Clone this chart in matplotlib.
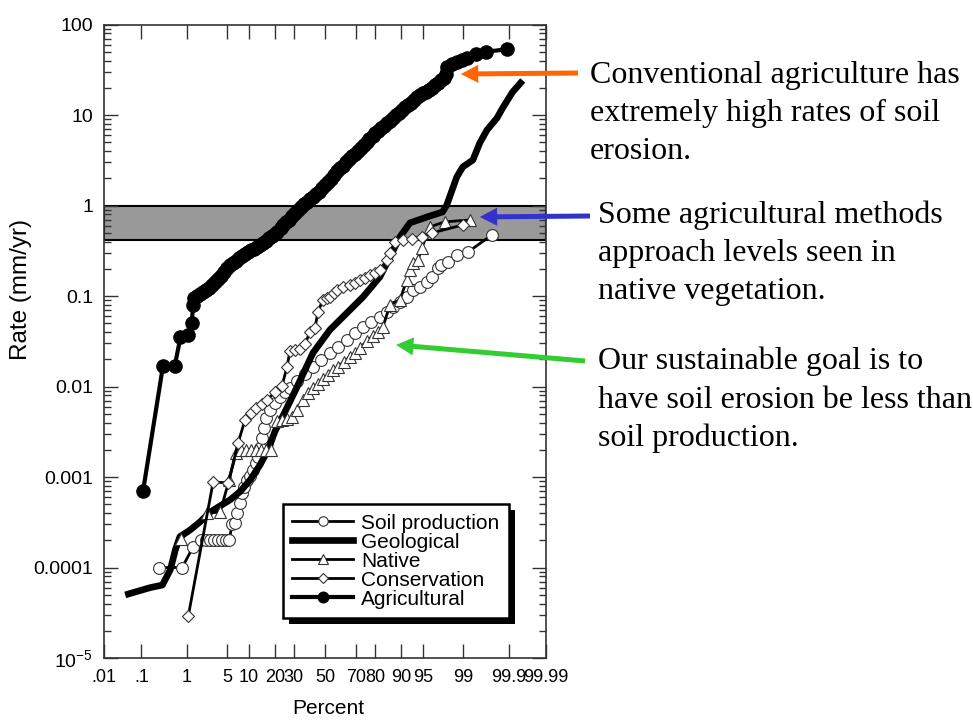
import numpy as np
import matplotlib
matplotlib.use('Agg')
import matplotlib.pyplot as plt
from matplotlib.patches import Rectangle
from matplotlib.transforms import IdentityTransform
from matplotlib.ticker import LogLocator, NullLocator, NullFormatter, FixedLocator
from statistics import NormalDist

# 累積確率(%) と 侵食・生成速度 (mm/yr)
soil_pct = [0.26, 0.81, 1.33, 1.86, 2.28, 2.66, 3.10, 3.61, 4.17, 4.81,
            5.34, 5.90, 6.52, 6.96, 7.65, 8.15, 8.67, 9.49, 10.4, 11.3,
            12.3, 13.0, 13.7, 14.5, 15.3, 16.1, 17.8, 20.0, 22.5, 25.1,
            27.8, 31.9, 36.8, 42.0, 47.3, 53.3, 58.6, 64.4, 69.3, 73.9,
            78.0, 82.2, 85.1, 87.4, 89.6, 91.6, 93.0, 94.5, 95.7, 96.4,
            97.1, 97.5, 98.1, 98.7, 99.2, 99.75]
soil_rate = [1.0e-4, 1.0e-4, 1.7e-4, 2.0e-4, 2.0e-4, 2.0e-4, 2.0e-4, 2.0e-4, 2.0e-4, 2.0e-4,
             2.0e-4, 3.0e-4, 3.1e-4, 4.0e-4, 5.2e-4, 6.7e-4, 7.8e-4, 9.3e-4, 1.03e-3, 1.2e-3,
             1.43e-3, 1.67e-3, 2.1e-3, 2.7e-3, 3.5e-3, 4.5e-3, 5.5e-3, 6.6e-3, 7.7e-3, 8.8e-3,
             9.7e-3, 0.0116, 0.0138, 0.0165, 0.0197, 0.0236, 0.0275, 0.0328, 0.0392, 0.0457,
             0.0519, 0.0589, 0.067, 0.076, 0.0863, 0.098, 0.117, 0.126, 0.144, 0.163,
             0.205, 0.221, 0.239, 0.285, 0.308, 0.474]

geo_pct = [0.047, 0.164, 0.31, 0.46, 0.59, 0.73, 1.16, 1.78, 2.66, 3.88,
           5.51, 7.65, 10.4, 13.7, 16.9, 20.0, 25.1, 31.9, 42.0, 53.3,
           64.4, 73.9, 82.2, 86.3, 89.6, 92.35, 95.7, 97.6, 97.98, 98.67,
           98.98, 99.36, 99.54, 99.68, 99.81, 99.86, 99.92, 99.95]
geo_rate = [5.1e-5, 6.0e-5, 6.4e-5, 9.4e-5, 1.57e-4, 2.19e-4, 2.6e-4, 3.2e-4, 4.1e-4, 4.8e-4,
            5.6e-4, 6.9e-4, 9.3e-4, 1.36e-3, 2.0e-3, 3.2e-3, 5.3e-3, 9.9e-3, 0.0236, 0.0424,
            0.0652, 0.098, 0.163, 0.271, 0.451, 0.644, 0.75, 0.85, 1.02, 2.07,
            2.68, 3.2, 4.93, 6.86, 9.3, 12.0, 18.0, 22.7]

nat_pct = [0.78, 2.37, 3.88, 5.34, 6.73, 7.90, 9.21, 10.7, 12.3, 14.1,
           16.1, 18.2, 21.0, 23.5, 26.1, 28.9, 31.9, 35.6, 38.7, 42.0,
           45.3, 48.6, 52.0, 55.3, 58.6, 62.5, 66.3, 69.3, 72.2, 76.0,
           79.0, 81.4, 83.5, 86.3, 89.6, 91.6, 92.35, 93.0, 94.1, 94.85,
           96.1, 97.8, 99.26]
nat_rate = [2.07e-4, 4.0e-4, 4.1e-4, 9.3e-4, 1.85e-3, 2.0e-3, 2.0e-3, 2.0e-3, 2.0e-3, 2.0e-3,
            2.0e-3, 2.0e-3, 4.2e-3, 4.3e-3, 4.4e-3, 4.6e-3, 5.5e-3, 7.1e-3, 8.5e-3, 9.7e-3,
            0.0107, 0.0122, 0.0135, 0.0153, 0.0165, 0.0188, 0.0213, 0.0236, 0.0268, 0.032,
            0.0363, 0.040, 0.0457, 0.080, 0.091, 0.151, 0.195, 0.233, 0.251, 0.341,
            0.582, 0.661, 0.695]

con_pct = [1.07, 2.99, 5.16, 7.2, 8.93, 10.7, 12.3, 14.5, 16.5, 20.0,
           23.5, 26.1, 27.8, 30.7, 33.7, 36.8, 40.1, 43.3, 45.3, 48.6,
           51.4, 53.3, 56.0, 58.0, 61.9, 66.3, 69.3, 72.2, 74.9, 77.5,
           80.0, 82.2, 85.1, 86.3, 88.0, 90.5, 92.8, 94.85, 96.4, 98.98]
con_rate = [2.9e-5, 8.85e-4, 8.6e-4, 2.4e-3, 4.3e-3, 5.1e-3, 5.8e-3, 6.4e-3, 7.1e-3, 8.7e-3,
            0.0102, 0.0165, 0.0248, 0.0254, 0.026, 0.0297, 0.040, 0.0446, 0.067, 0.091,
            0.0955, 0.098, 0.109, 0.117, 0.126, 0.133, 0.140, 0.151, 0.159, 0.171,
            0.180, 0.195, 0.251, 0.300, 0.397, 0.418, 0.429, 0.451, 0.499, 0.612]

agr_pct = [0.11, 0.32, 0.57, 0.75, 1.07, 1.25, 1.32, 1.39, 1.58, 1.79,
           2.02, 2.28, 2.56, 2.87, 3.22, 3.59, 4.01, 4.46, 4.95, 5.48,
           6.06, 6.68, 7.35, 8.08, 8.85, 9.68, 10.56, 11.5, 12.5, 13.6,
           14.7, 15.9, 17.1, 18.4, 19.8, 21.2, 22.7, 24.2, 25.8, 27.4,
           29.1, 30.9, 32.6, 34.5, 36.3, 38.2, 40.1, 42.1, 44.0, 46.0,
           48.0, 50.0, 52.0, 54.0, 56.0, 57.9, 59.9, 61.8, 63.7, 65.5,
           67.4, 69.2, 70.9, 72.6, 74.2, 75.8, 77.3, 78.8, 80.2, 81.6,
           82.9, 84.1, 85.3, 86.4, 87.5, 88.5, 89.4, 90.3, 91.15, 91.9,
           92.65, 93.3, 93.9, 94.5, 95.05, 95.5, 95.99, 96.4, 96.78, 97.1,
           97.44, 97.7, 97.9, 98.0, 98.36, 98.68, 98.93, 99.16, 99.46, 99.67,
           99.89]
agr_rate = [0.0007, 0.0169, 0.0167, 0.035, 0.037, 0.050, 0.080, 0.0955, 0.101, 0.106,
            0.111, 0.117, 0.124, 0.133, 0.144, 0.155, 0.167, 0.185, 0.202, 0.221,
            0.233, 0.245, 0.261, 0.278, 0.292, 0.308, 0.320, 0.332, 0.350, 0.368,
            0.388, 0.408, 0.434, 0.462, 0.487, 0.512, 0.560, 0.612, 0.652, 0.695,
            0.760, 0.830, 0.896, 0.968, 1.03, 1.10, 1.17, 1.25, 1.33, 1.42,
            1.55, 1.69, 1.83, 1.97, 2.18, 2.42, 2.58, 2.75, 3.00, 3.28,
            3.50, 3.73, 4.02, 4.35, 4.69, 5.06, 5.46, 5.90, 6.28, 6.70,
            7.13, 7.61, 8.09, 8.64, 9.31, 9.93, 10.6, 11.4, 12.2, 13.0,
            13.8, 14.7, 15.7, 16.7, 17.4, 18.0, 19.0, 20.0, 21.3, 22.7,
            24.2, 25.8, 28.5, 34.1, 36.8, 38.7, 40.8, 42.9, 47.5, 50.3,
            53.5]

# 土壌生成と同程度の帯 (mm/yr)
band_low, band_high = 0.42, 1.0

pct_ticks = [0.01, 0.1, 1, 5, 10, 20, 30, 50, 70, 80, 90, 95, 99, 99.9, 99.99]
pct_labels = ['.01', '.1', '1', '5', '10', '20', '30', '50', '70', '80', '90', '95', '99', '99.9', '99.99']
rate_ticks = [1e-5, 1e-4, 1e-3, 1e-2, 0.1, 1, 10, 100]
rate_labels = ['10$^{-5}$', '0.0001', '0.001', '0.01', '0.1', '1', '10', '100']

notes = [
    ('Conventional agriculture has\nextremely high rates of soil\nerosion.', '#ff6600', 98.89, 28.5, 590, 61, 578, 73),
    ('Some agricultural methods\napproach levels seen in\nnative vegetation.', '#3333cc', 99.54, 0.75, 598, 200, 590, 216),
    ('Our sustainable goal is to\nhave soil erosion be less than\nsoil production.', '#33cc33', 88.4, 0.0289, 598, 347, 585, 361),
]

_nd = NormalDist()


def pct_to_z(p):
    """確率(%) -> 標準正規分布の分位点"""
    p = np.clip(np.asarray(p, dtype=float), 1e-7, 100 - 1e-7)
    return np.vectorize(lambda v: _nd.inv_cdf(v / 100.0) if np.isfinite(v) else np.nan,
                        otypes=[float])(p)


def z_to_pct(z):
    """分位点 -> 確率(%)"""
    z = np.asarray(z, dtype=float)
    return np.vectorize(lambda v: _nd.cdf(v) * 100.0 if np.isfinite(v) else np.nan,
                        otypes=[float])(z)


plt.rcParams['font.family'] = ['Liberation Sans', 'DejaVu Sans']
plt.rcParams['mathtext.default'] = 'regular'

W, H = 973, 721
fig = plt.figure(figsize=(W / 100, H / 100), dpi=100)
ax = fig.add_axes([104 / W, 63 / H, 442 / W, 633.3 / H])

ax.set_xscale('function', functions=(pct_to_z, z_to_pct))
ax.set_yscale('log')
ax.set_xlim(0.01, 99.99)
ax.set_ylim(1e-5, 100)

# グレーの帯
ax.axhspan(band_low, band_high, facecolor='#999999', edgecolor='black', lw=1.5, zorder=1)

open_kw = dict(markerfacecolor='white', markeredgecolor='#333333', markeredgewidth=0.8)
ax.plot(soil_pct, soil_rate, '-o', color='black', lw=2.0, ms=8.5, zorder=3,
        label='Soil production', **open_kw)
ax.plot(geo_pct, geo_rate, '-', color='black', lw=4.8, zorder=3,
        solid_joinstyle='round', label='Geological')
ax.plot(nat_pct, nat_rate, '-^', color='black', lw=2.0, ms=8.5, zorder=4,
        label='Native', **open_kw)
ax.plot(con_pct, con_rate, '-D', color='black', lw=2.0, ms=6, zorder=4,
        label='Conservation', **open_kw)
ax.plot(agr_pct, agr_rate, '-o', color='black', lw=3.0, ms=9.5, zorder=5,
        label='Agricultural')

# 軸・目盛り
ax.xaxis.set_major_locator(FixedLocator(pct_ticks))
ax.set_xticklabels(pct_labels)
ax.xaxis.set_minor_locator(NullLocator())
ax.yaxis.set_major_locator(FixedLocator(rate_ticks))
ax.set_yticklabels(rate_labels)
ax.yaxis.set_minor_locator(LogLocator(base=10, subs=np.arange(2, 10)))
ax.yaxis.set_minor_formatter(NullFormatter())
ax.tick_params(which='both', direction='in', top=True, right=True, width=1.0,
               labelsize=14, color='#333333')
ax.tick_params(axis='x', labelsize=13)
ax.tick_params(which='major', length=10, pad=8)
ax.tick_params(which='minor', length=5)
for s in ax.spines.values():
    s.set_linewidth(1.2)
    s.set_color('#333333')

fig.text(21 / W, 1 - 289 / H, 'Rate (mm/yr)', rotation=90, fontsize=17.5,
         ha='center', va='center')
fig.text(328 / W, 1 - 708 / H, 'Percent', fontsize=15, ha='center', va='center')

leg = ax.legend(loc='lower left', bbox_to_anchor=(0.405, 0.063), fontsize=15,
                frameon=True, fancybox=False, edgecolor='black', framealpha=1,
                handlelength=2.9, handletextpad=0.4, labelspacing=0.0,
                borderpad=0.45, borderaxespad=0, markerscale=0.8)
leg.get_frame().set_linewidth(1.8)
leg.set_zorder(6)

# 凡例の黒い影 (右下にずらした矩形)
fig.canvas.draw()
bb = leg.get_window_extent()
shadow = Rectangle((bb.x0 + 6, bb.y0 - 6), bb.width, bb.height, transform=IdentityTransform(),
                   facecolor='black', edgecolor='none', zorder=5.9, clip_on=False)
ax.add_artist(shadow)

# 注釈テキストと矢印
for text, color, px, py, tx, ty, ax_x, ax_y in notes:
    fig.text(tx / W, 1 - ty / H, text, fontsize=23, family='Liberation Serif',
             ha='left', va='top', linespacing=1.41)
    ax.annotate('', xy=(px, py), xycoords='data',
                xytext=(ax_x / W, 1 - ax_y / H), textcoords='figure fraction',
                arrowprops=dict(arrowstyle='simple,head_length=1.25,head_width=1.3,tail_width=0.36',
                                mutation_scale=10, color=color, lw=0,
                                shrinkA=0, shrinkB=0),
                annotation_clip=False)

fig.savefig('out.png', dpi=100)
